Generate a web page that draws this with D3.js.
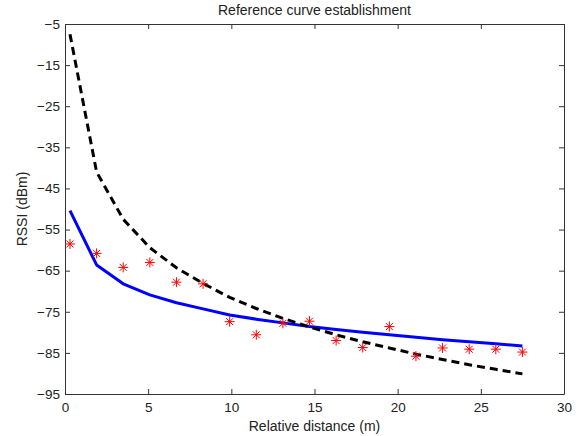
<!DOCTYPE html>
<html>
<head>
<meta charset="utf-8">
<script src="https://cdn.jsdelivr.net/npm/d3@7"></script>
<style>
  body { margin: 0; background: #fff; }
  text { font-family: "Liberation Sans", Arial, sans-serif; fill: #222; }
</style>
</head>
<body>
<svg width="585" height="436"></svg>
<script>
// distances (m) at which everything was sampled
const distances = [0.3, 1.9, 3.5, 5.1, 6.7, 8.3, 9.9, 11.5, 13.1, 14.7, 16.3, 17.9, 19.5, 21.1, 22.7, 24.3, 25.9, 27.5]
// measured RSSI (red stars)
const measured = [-58.5, -60.8, -64.2, -63.0, -67.8, -68.2, -77.4, -80.6, -77.8, -77.3, -82.0, -83.7, -78.6, -85.8, -83.8, -84.1, -84.1, -84.8]
// fitted reference curve (blue)
const fitted = [-50.4, -63.6, -68.2, -70.9, -72.8, -74.3, -75.8, -76.8, -77.7, -78.6, -79.3, -80.0, -80.6, -81.2, -81.8, -82.3, -82.8, -83.3]
// theoretical curve (black dashed)
const theory = [-7.5, -41.0, -52.5, -59.4, -64.3, -68.1, -71.5, -74.2, -76.6, -78.7, -80.6, -82.3, -83.8, -85.3, -86.6, -87.9, -89.0, -90.1]

const xTicks = [0, 5, 10, 15, 20, 25, 30]
const yTicks = [-95, -85, -75, -65, -55, -45, -35, -25, -15, -5]

const svg = d3.select("svg")
// plot box edges in px (window.top is taken, so no bare "top")
const box = { left: 65, right: 564, top: 24, bottom: 394 }

const x = d3.scaleLinear().domain([0, 30]).range([box.left, box.right])
const y = d3.scaleLinear().domain([-95, -5]).range([box.bottom, box.top])

// axes box, ticks pointing inwards like matlab
svg.append("g")
  .attr("transform", "translate(0," + box.bottom + ")")
  .call(d3.axisBottom(x).tickValues(xTicks).tickSizeInner(-5).tickSizeOuter(0).tickPadding(8))
svg.append("g")
  .attr("transform", "translate(0," + box.top + ")")
  .call(d3.axisTop(x).tickValues(xTicks).tickSizeInner(-5).tickSizeOuter(0).tickFormat(""))
svg.append("g")
  .attr("transform", "translate(" + box.left + ",0)")
  .call(d3.axisLeft(y).tickValues(yTicks).tickSizeInner(-5).tickSizeOuter(0).tickPadding(5))
svg.append("g")
  .attr("transform", "translate(" + box.right + ",0)")
  .call(d3.axisRight(y).tickValues(yTicks).tickSizeInner(-5).tickSizeOuter(0).tickFormat(""))

svg.selectAll(".domain").attr("stroke", "#333")
svg.selectAll(".tick line").attr("stroke", "#333")
svg.selectAll(".tick text")
  .style("font-family", "Liberation Sans, Arial, sans-serif")
  .style("font-size", "13.5px")
  .attr("fill", "#222")

const line = d3.line()
  .x((d, i) => x(distances[i]))
  .y(d => y(d))

svg.append("path")
  .datum(fitted)
  .attr("d", line)
  .attr("fill", "none")
  .attr("stroke", "#0000ff")
  .attr("stroke-width", 3)
  .attr("stroke-linejoin", "round")

svg.append("path")
  .datum(theory)
  .attr("d", line)
  .attr("fill", "none")
  .attr("stroke", "#000")
  .attr("stroke-width", 3)
  .attr("stroke-dasharray", "8,5")

// asterisk markers
const r = 5
const stars = svg.append("g").selectAll("g")
  .data(measured)
  .join("g")
  .attr("transform", (d, i) => "translate(" + x(distances[i]) + "," + y(d) + ")")
const spokes = [[0, r], [r, 0], [r * 0.7, r * 0.7], [r * 0.7, -r * 0.7]]
spokes.forEach(s => {
  stars.append("line")
    .attr("x1", -s[0]).attr("y1", -s[1])
    .attr("x2", s[0]).attr("y2", s[1])
    .attr("stroke", "#ff0000")
    .attr("stroke-width", 1)
})

svg.append("text")
  .attr("x", (box.left + box.right) / 2).attr("y", 15)
  .attr("text-anchor", "middle")
  .style("font-size", "14px")
  .text("Reference curve establishment")

svg.append("text")
  .attr("x", (box.left + box.right) / 2).attr("y", 431)
  .attr("text-anchor", "middle")
  .style("font-size", "14px")
  .text("Relative distance (m)")

svg.append("text")
  .attr("transform", "translate(27," + (box.top + box.bottom) / 2 + ") rotate(-90)")
  .attr("text-anchor", "middle")
  .style("font-size", "14px")
  .text("RSSI (dBm)")
</script>
</body>
</html>
